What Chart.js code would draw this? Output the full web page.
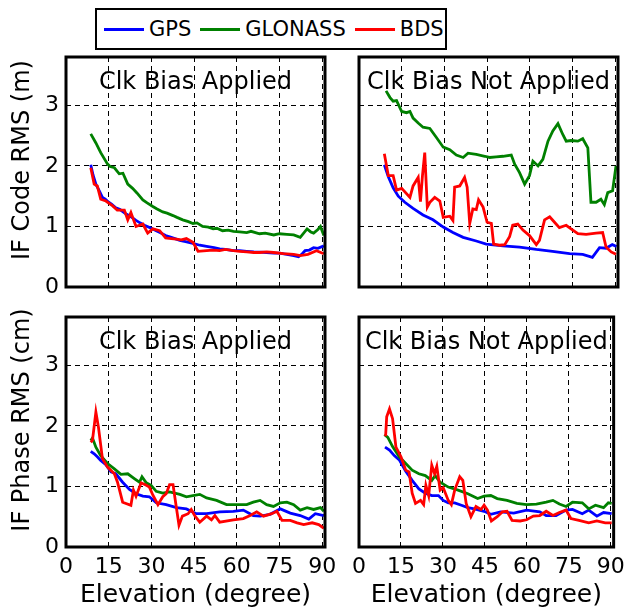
<!DOCTYPE html>
<html>
<head>
<meta charset="utf-8">
<script src="https://cdn.jsdelivr.net/npm/chart.js@4.4.0/dist/chart.umd.min.js"></script>
<style>
  html, body { margin:0; padding:0; background:#fff; width:632px; height:607px; overflow:hidden; }
  canvas { position:absolute; left:0; top:0; }
  #legend {
    position:absolute; left:95px; top:8px; width:352px; height:42px; box-sizing:border-box;
    border:2px solid #000; background:#fff; display:flex; align-items:center; padding-left:7px;
    font-family:"DejaVu Sans", sans-serif; font-size:21px; color:#000;
  }
  .ley-item { display:flex; align-items:center; margin-right:9px; }
  .ley-line { width:40px; height:3px; margin-right:5px; }
</style>
</head>
<body>
<canvas id="c-tl" width="632" height="607"></canvas>
<canvas id="c-tr" width="632" height="607"></canvas>
<canvas id="c-bl" width="632" height="607"></canvas>
<canvas id="c-br" width="632" height="607"></canvas>
<div id="legend"></div>
<script>
/* ---------- data: [elevation (deg), RMS] ---------- */
const SYSTEMS = ['GPS', 'GLONASS', 'BDS'];
const COLORS  = ['#0000ff', '#008000', '#ff0000'];
const xTicks  = [0, 15, 30, 45, 60, 75, 90];
const yTicks  = [0, 1, 2, 3];
const PANEL_TITLES = ['Clk Bias Applied', 'Clk Bias Not Applied'];

// IF code RMS (m), clock bias applied
const codeAppliedGps = [[8.7,2.02],[9.5,1.85],[10.5,1.70],[11.7,1.59],[12.8,1.48],[13.8,1.45],[15,1.40],[16,1.37],[17.5,1.31],[19,1.28],[21,1.21],[22.5,1.17],[24.6,1.10],[26,1.06],[28,1.01],[30,0.97],[31.7,0.93],[33,0.90],[35,0.85],[37,0.82],[40,0.77],[42,0.75],[44.6,0.72],[47,0.69],[49.4,0.67],[52,0.65],[54,0.63],[56,0.62],[58.8,0.60],[61,0.60],[63.5,0.59],[66,0.58],[68,0.575],[70.5,0.57],[73,0.56],[75,0.56],[77.6,0.54],[80,0.52],[81.7,0.50],[83,0.55],[84,0.60],[85.5,0.61],[87,0.65],[88.5,0.64],[90.6,0.68]];
const codeAppliedGlonass = [[8.7,2.53],[10.5,2.38],[12.2,2.22],[14.6,2.03],[15.5,1.99],[17,1.97],[18.7,1.87],[20,1.88],[21.7,1.70],[23.4,1.63],[25,1.55],[27,1.44],[28.5,1.39],[30.5,1.33],[32,1.29],[34,1.24],[35.5,1.22],[37.6,1.18],[39,1.15],[41,1.11],[43,1.08],[44.6,1.05],[46,1.06],[48,1.00],[50,0.99],[51.7,0.96],[53,0.97],[55,0.93],[57,0.94],[58.8,0.92],[61,0.91],[63.5,0.90],[65,0.92],[68,0.88],[70,0.89],[73,0.86],[75,0.88],[77.6,0.87],[80,0.86],[82.3,0.82],[84.7,0.96],[86,0.91],[87,0.89],[88.5,0.95],[89.4,1.00],[90.6,0.85]];
const codeAppliedBds = [[8.7,1.97],[9.9,1.70],[11,1.67],[12.2,1.45],[14,1.42],[16.4,1.34],[18,1.27],[20.5,1.27],[21.7,1.11],[22.8,1.23],[24.6,1.00],[27,1.04],[28.7,0.89],[30.5,0.96],[32.9,0.93],[35,0.81],[37,0.80],[38.8,0.79],[40.5,0.78],[42.3,0.80],[44.6,0.74],[46.4,0.59],[49.4,0.60],[51.7,0.61],[54,0.60],[56,0.62],[58.8,0.60],[61,0.59],[63.5,0.58],[66,0.57],[68,0.57],[70.5,0.58],[73,0.57],[76.4,0.55],[80,0.54],[82.3,0.52],[85,0.54],[88,0.60],[90.6,0.55]];

// IF code RMS (m), clock bias not applied
const codeNotGps = [[8.9,2.02],[10.3,1.82],[12,1.64],[13.8,1.50],[16.1,1.40],[19,1.30],[22.5,1.19],[26,1.11],[29.6,0.99],[33,0.90],[36.6,0.82],[41.2,0.76],[44.7,0.71],[50.6,0.68],[56.4,0.66],[62.3,0.62],[68,0.59],[74,0.55],[78.6,0.54],[82,0.49],[84.5,0.65],[86.8,0.64],[89,0.70],[90.5,0.67]];
const codeNotGlonass = [[9.5,3.24],[10.9,3.13],[12,3.07],[13.2,3.08],[15,2.90],[16.7,2.88],[17.9,2.90],[19,2.79],[20.8,2.71],[22.5,2.64],[24.9,2.62],[27.2,2.47],[29.6,2.31],[31.9,2.27],[34.2,2.18],[36.6,2.14],[38.3,2.21],[41.2,2.19],[44.2,2.16],[45.9,2.14],[48.2,2.15],[50.6,2.16],[53.5,2.18],[54.7,2.03],[56.4,1.89],[58.2,1.70],[59.9,1.84],[61.1,2.08],[62.9,2.00],[64.6,2.11],[66.4,2.41],[68.1,2.58],[69.9,2.70],[71.6,2.52],[72.8,2.41],[74.5,2.42],[76.9,2.41],[78.6,2.45],[80.4,2.30],[81.5,1.40],[83.3,1.40],[85,1.45],[86.2,1.36],[87.4,1.56],[89.1,1.59],[90.3,2.00]];
const codeNotBds = [[8.9,2.20],[10.3,1.84],[12,1.84],[13.2,1.60],[15,1.63],[17.9,1.48],[19,1.67],[20.8,1.81],[21.6,1.41],[22.3,1.84],[23.1,2.22],[24,1.32],[24.9,1.40],[26.6,1.48],[28.4,1.42],[29.6,1.15],[31.9,1.17],[33,1.10],[33.6,1.65],[35.4,1.67],[37.1,1.81],[38,1.65],[38.9,1.05],[40,1.29],[41.2,1.28],[42,1.44],[43.6,1.32],[45,1.07],[46.5,1.05],[47.3,0.71],[49.4,0.69],[51.2,0.70],[52.9,0.83],[54,1.02],[55.8,1.04],[57.6,0.94],[59.9,0.85],[62.3,0.70],[63.4,0.77],[65.2,1.11],[67,1.16],[68.7,1.07],[70.4,0.98],[72.8,1.02],[74.5,0.96],[76.9,0.88],[79.8,0.87],[83.3,0.89],[85.6,0.90],[86.8,0.66],[88.6,0.58],[90.3,0.54]];

// IF phase RMS (cm), clock bias applied
const phaseAppliedGps = [[8.7,1.58],[9.9,1.54],[11,1.49],[12.2,1.43],[14,1.36],[15.8,1.24],[17.5,1.21],[19.9,1.07],[22.3,0.95],[24.6,0.88],[27,0.84],[29.3,0.83],[31.7,0.73],[35.2,0.70],[38.8,0.65],[42.3,0.63],[45.8,0.55],[49.4,0.55],[54,0.58],[58.8,0.59],[62.3,0.61],[65.8,0.52],[68.2,0.51],[71.7,0.54],[75.3,0.63],[78.8,0.56],[82.3,0.52],[85.3,0.46],[87.6,0.55],[90.6,0.52]];
const phaseAppliedGlonass = [[8.7,1.76],[9.3,1.80],[10.5,1.65],[12.2,1.51],[14.6,1.38],[17,1.29],[19.3,1.20],[21.7,1.21],[24,1.13],[25.8,1.07],[26.7,1.16],[28.2,1.06],[29.9,1.02],[31.7,0.92],[34,0.89],[36.4,0.91],[40,0.87],[42.3,0.83],[44.6,0.85],[47,0.87],[49.4,0.81],[52.9,0.77],[56.4,0.70],[60,0.70],[63.5,0.70],[65.8,0.74],[68.2,0.77],[70.5,0.70],[72.9,0.67],[75.3,0.73],[77.6,0.74],[80,0.70],[82.3,0.61],[84.7,0.65],[87,0.62],[89.4,0.65],[90.6,0.59]];
const phaseAppliedBds = [[8.7,1.73],[9.3,1.76],[10.5,2.23],[11.4,1.98],[12.8,1.46],[14.6,1.32],[17,1.21],[18.1,1.07],[19.9,0.74],[22.8,0.69],[23.7,0.94],[24.6,0.84],[26.4,1.06],[28.2,1.02],[29.3,0.99],[30.5,0.86],[32.3,0.70],[34,0.83],[35.2,0.88],[36.4,1.03],[37.6,1.03],[38.5,0.74],[39.7,0.36],[40.9,0.51],[42.9,0.55],[44,0.62],[45.2,0.52],[47,0.41],[49.4,0.51],[51.1,0.45],[52.3,0.52],[54,0.41],[58.8,0.45],[62.3,0.47],[64.7,0.52],[67,0.58],[69.4,0.51],[72.3,0.55],[74.1,0.59],[75.9,0.44],[78.8,0.44],[81.2,0.40],[83.5,0.37],[86.5,0.40],[88.8,0.37],[90.6,0.31]];

// IF phase RMS (cm), clock bias not applied
const phaseNotGps = [[9.3,1.65],[10.9,1.60],[12.6,1.51],[14.4,1.44],[16.7,1.25],[19,1.10],[21.4,0.96],[23.7,0.89],[26,0.85],[28.4,0.85],[30.1,0.77],[31.9,0.73],[34.2,0.73],[36.6,0.69],[38.9,0.65],[41.2,0.63],[44.7,0.59],[47.1,0.54],[50.6,0.58],[55.3,0.56],[59.9,0.61],[64.6,0.58],[66.9,0.52],[70.4,0.52],[74,0.61],[76.3,0.62],[79.8,0.55],[82.1,0.61],[85,0.51],[87.4,0.57],[90.3,0.55]];
const phaseNotGlonass = [[9.1,1.86],[10.3,1.81],[12,1.66],[14.4,1.49],[16.7,1.38],[19,1.27],[21.4,1.21],[23.7,1.18],[26,1.10],[27.2,1.18],[29,1.07],[31.9,0.99],[35.4,0.94],[38.9,0.88],[42.4,0.80],[44.7,0.84],[47.1,0.85],[49.4,0.80],[52.9,0.77],[56.4,0.72],[59.9,0.70],[63.4,0.71],[66.9,0.74],[69.3,0.77],[71.6,0.71],[74,0.67],[76.3,0.74],[79.8,0.73],[82.1,0.63],[84.5,0.69],[87.4,0.65],[89.1,0.73],[90.3,0.72]];
const phaseNotBds = [[9.5,1.83],[9.9,2.15],[10.9,2.28],[12,2.12],[13.2,1.65],[15,1.49],[16.7,1.27],[17.9,1.24],[19,0.89],[20.2,0.72],[22,0.77],[23.1,0.70],[23.9,1.02],[24.9,0.85],[26,1.35],[27,1.21],[27.8,1.33],[29,0.94],[30.1,0.98],[31.9,0.77],[33,0.70],[34.2,0.94],[36,1.16],[37.1,1.10],[38.3,0.72],[40,0.50],[41.8,0.67],[43.6,0.62],[44.7,0.69],[45.9,0.61],[47.3,0.43],[49.4,0.50],[51.2,0.58],[52.9,0.59],[54.7,0.44],[57.6,0.43],[59.9,0.45],[62.3,0.51],[64.6,0.52],[66.9,0.59],[69.3,0.52],[71.6,0.57],[74,0.61],[75.7,0.47],[78.6,0.44],[82.1,0.40],[85,0.43],[88,0.40],[90.3,0.40]];

/* ---------- layout (px) ---------- */
const W = 632, H = 607;
const FONT = '"DejaVu Sans", sans-serif';

// black box, panel label inside the plot area, and (left panels) the y title
const panelPlugin = {
  id: 'panelBox',
  afterDraw(chart, args, opts) {
    const { ctx, chartArea: a } = chart;
    ctx.save();
    ctx.fillStyle = '#000';
    ctx.textAlign = 'center';
    ctx.textBaseline = 'middle';
    ctx.font = `24px ${FONT}`;
    ctx.fillText(opts.label, (a.left + a.right) / 2, a.top + 26);
    if (opts.yTitle) {
      ctx.font = `24px ${FONT}`;
      ctx.translate(23, (a.top + a.bottom) / 2 - 12);
      ctx.rotate(-Math.PI / 2);
      ctx.fillText(opts.yTitle, 0, 0);
      ctx.setTransform(1, 0, 0, 1, 0, 0);
    }
    ctx.strokeStyle = '#000';
    ctx.lineWidth = 3;
    ctx.strokeRect(a.left, a.top, a.right - a.left, a.bottom - a.top);
    ctx.restore();
  }
};

function renderPanel(id, area, seriesList, cfg) {
  const [left, top, right, bottom] = area;
  const datasets = seriesList.map((pts, i) => ({
    label: SYSTEMS[i],
    data: pts.map(([x, y]) => ({ x, y })),
    borderColor: COLORS[i],
    backgroundColor: COLORS[i],
    borderWidth: 2.8,
    pointRadius: 0,
    tension: 0,
    order: 2 - i,
  }));

  new Chart(document.getElementById(id), {
    type: 'line',
    data: { datasets },
    plugins: [panelPlugin],
    options: {
      responsive: false,
      animation: false,
      events: [],
      layout: {
        padding: {
          left: cfg.yLabels ? 0 : left,
          top,
          right: W - right,
          bottom: cfg.xLabels ? 0 : H - bottom,
        }
      },
      plugins: {
        legend: { display: false },
        tooltip: { enabled: false },
        panelBox: { label: cfg.label, yTitle: cfg.yTitle },
      },
      scales: {
        x: {
          type: 'linear', min: 0, max: 91,
          afterBuildTicks: s => { s.ticks = xTicks.map(v => ({ value: v })); },
          afterFit: s => { s.height = cfg.xLabels ? H - bottom : 0; },
          grid: { color: '#000', lineWidth: 1, drawTicks: false },
          border: { display: false, dash: [5, 4] },
          ticks: { display: cfg.xLabels, color: '#000', padding: 7, maxRotation: 0, autoSkip: false,
                   font: { family: FONT, size: 22 } },
          title: { display: cfg.xLabels, text: 'Elevation (degree)', color: '#000',
                   font: { family: FONT, size: 25 }, padding: { top: 0, bottom: -3 } },
        },
        y: {
          min: 0, max: 3.8,
          afterBuildTicks: s => { s.ticks = yTicks.map(v => ({ value: v })); },
          afterFit: s => { s.width = cfg.yLabels ? left : 0; },
          grid: { color: '#000', lineWidth: 1, drawTicks: false },
          border: { display: false, dash: [5, 4] },
          ticks: { display: cfg.yLabels, color: '#000', padding: 7, font: { family: FONT, size: 22 } },
        }
      }
    }
  });
}

renderPanel('c-tl', [66, 57, 325, 287], [codeAppliedGps, codeAppliedGlonass, codeAppliedBds],
  { label: PANEL_TITLES[0], yLabels: true, xLabels: false, yTitle: 'IF Code RMS (m)' });
renderPanel('c-tr', [359, 57, 618, 287], [codeNotGps, codeNotGlonass, codeNotBds],
  { label: PANEL_TITLES[1], yLabels: false, xLabels: false });
renderPanel('c-bl', [66, 317, 325, 547], [phaseAppliedGps, phaseAppliedGlonass, phaseAppliedBds],
  { label: PANEL_TITLES[0], yLabels: true, xLabels: true, yTitle: 'IF Phase RMS (cm)' });
renderPanel('c-br', [359, 317, 618, 547], [phaseNotGps, phaseNotGlonass, phaseNotBds],
  { label: PANEL_TITLES[1], yLabels: false, xLabels: true });

/* ---------- legend ---------- */
const leg = document.getElementById('legend');
SYSTEMS.forEach((name, i) => {
  const div = document.createElement('div');
  div.className = 'ley-item';
  div.innerHTML = `<div class="ley-line" style="background:${COLORS[i]}"></div><span>${name}</span>`;
  leg.appendChild(div);
});
</script>
</body>
</html>
